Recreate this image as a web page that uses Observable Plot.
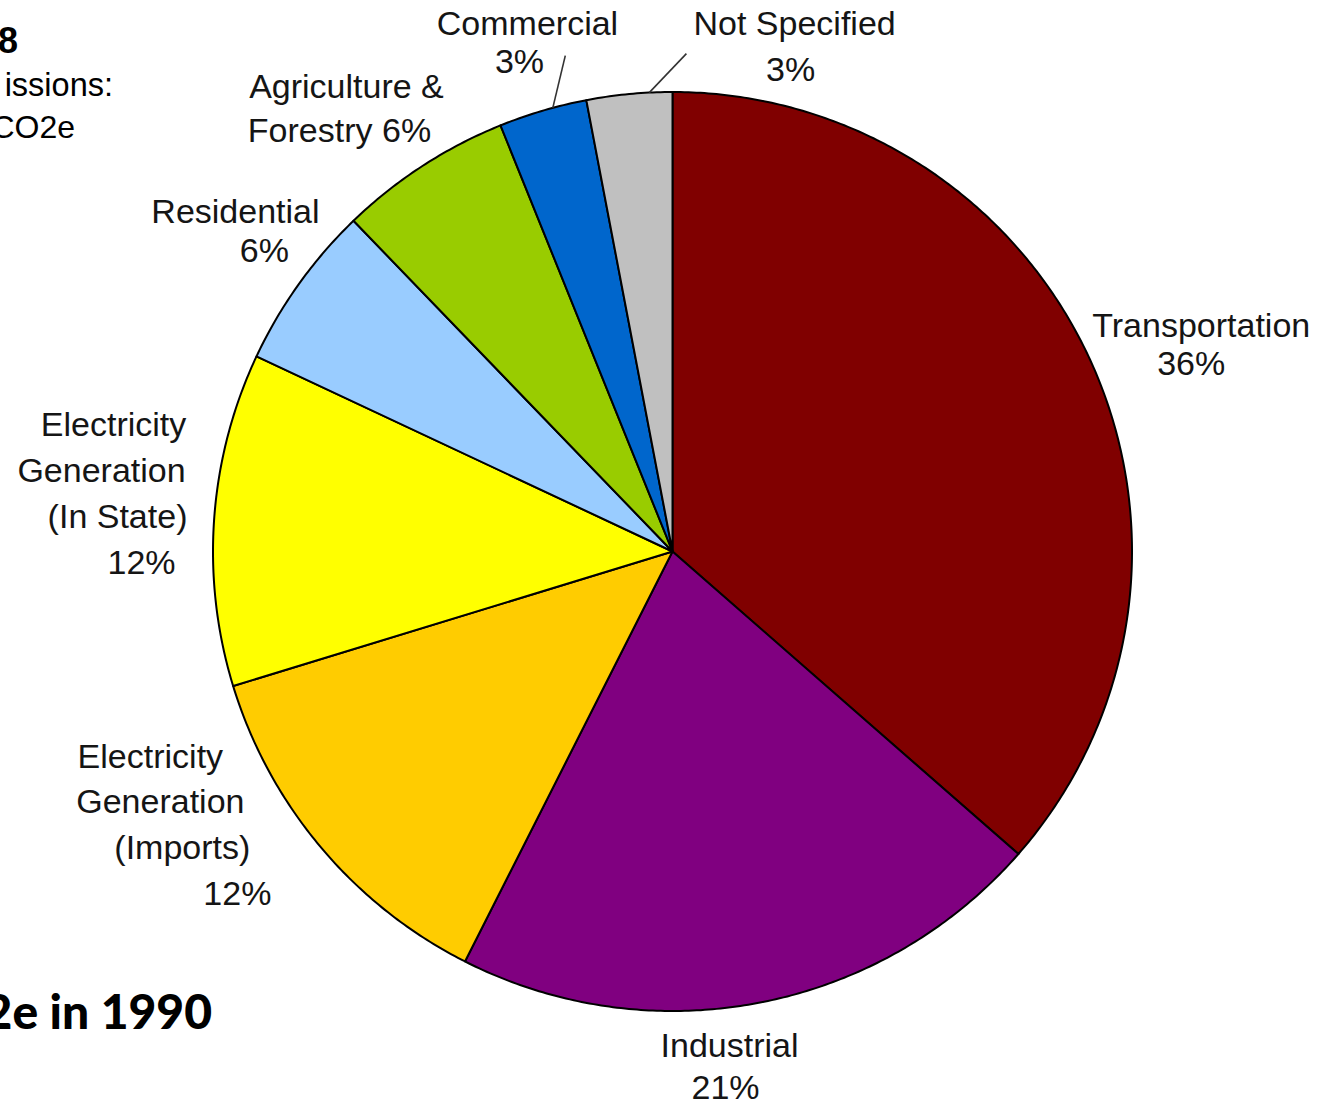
<!DOCTYPE html>
<html><head><meta charset="utf-8">
<script src="https://cdn.jsdelivr.net/npm/d3@7"></script>
<script src="https://cdn.jsdelivr.net/npm/@observablehq/plot@0.6"></script>
<style>
html,body{margin:0;padding:0;background:#fff;}
#wrap{position:relative;width:1329px;height:1107px;overflow:hidden;background:#fff;}
#wrap svg{position:absolute;left:0;top:0;}
.frag{position:absolute;white-space:nowrap;line-height:1;color:#000;}
</style></head><body>
<div id="wrap"></div>
<script>
// ---- data ----
const categories = ["Transportation","Industrial","Electricity Generation (Imports)","Electricity Generation (In State)","Residential","Agriculture & Forestry","Commercial","Not Specified"];
const labelNames = ["Transportation","Industrial","Electricity\nGeneration\n(Imports)","Electricity\nGeneration\n(In State)","Residential","Agriculture &\nForestry","Commercial","Not Specified"];
const shares = [36.4, 21.0, 12.8, 11.7, 5.8, 6.1, 3.1, 3.0];
const shareLabels = ["36%","21%","12%","12%","6%","6%","3%","3%"];
const colors = ["#800000","#800080","#FFCC00","#FFFF00","#99CCFF","#99CC00","#0066CC","#C0C0C0"];

// ---- label layout: block centre as angle (deg, clockwise from top) and radius fraction,
//      per-line horizontal offsets (px), line spacing (px), joiner between name and share ----
const labelLayout = [
  {a:68.5,  k:1.225, lh:38,   dx:[5,-5],          sep:"\n"},
  {a:173.9, k:1.128, lh:42,   dx:[2,-2],          sep:"\n"},
  {a:240.8, k:1.222, lh:45.7, dx:[-32,-22,0,55],  sep:"\n"},
  {a:275.9, k:1.212, lh:46,   dx:[-5,-17,-1,23],  sep:"\n"},
  {a:307.1, k:1.153, lh:39,   dx:[-14.5,14.5],    sep:"\n"},
  {a:323.3, k:1.200, lh:44,   dx:[3.5,-3.5],      sep:" "},
  {a:343.65,k:1.152, lh:38,   dx:[4,-4],          sep:"\n"},
  {a:13.4,  k:1.128, lh:46,   dx:[2,-2],          sep:"\n"}
];
const leaderLayout = [
  {i:6, a0:344.9, k0:1.0, a1:347.8, k1:1.104},
  {i:7, a0:357.1, k0:1.0, a1:1.6, k1:1.084}
];

const R = 459.5, CX = 672, CY = 551, FS = 34;
const rad = d => d*Math.PI/180;

// slice outlines
const total = d3.sum(shares);
let acc = 0;
const slicePoints = [];
categories.forEach((c,i)=>{
  const a0 = acc/total*2*Math.PI; acc += shares[i]; const a1 = acc/total*2*Math.PI;
  const n = Math.max(2, Math.ceil((a1-a0)/(Math.PI/360)));
  slicePoints.push({category:c, x:0, y:0});
  for (let j=0;j<=n;j++){ const t=a0+(a1-a0)*j/n; slicePoints.push({category:c, x:Math.sin(t), y:Math.cos(t)}); }
  slicePoints.push({category:c, x:0, y:0});
});

// label lines
const labelLines = [];
categories.forEach((c,i)=>{
  const L = labelLayout[i];
  const lines = (labelNames[i] + L.sep + shareLabels[i]).split("\n");
  const bx = L.k*Math.sin(rad(L.a)), by = L.k*Math.cos(rad(L.a));
  lines.forEach((t,j)=>{
    labelLines.push({text:t, x: bx + L.dx[j]/R, y: by - (j-(lines.length-1)/2)*L.lh/R});
  });
});
const leaders = leaderLayout.map(L=>({
  x1:L.k0*Math.sin(rad(L.a0)), y1:L.k0*Math.cos(rad(L.a0)),
  x2:L.k1*Math.sin(rad(L.a1)), y2:L.k1*Math.cos(rad(L.a1))
}));

const plot = Plot.plot({
  width:1329, height:1107, margin:0,
  x:{domain:[-1,1], range:[CX-R, CX+R], axis:null},
  y:{domain:[-1,1], range:[CY+R, CY-R], axis:null},
  color:{domain:categories, range:colors},
  style:{fontFamily:"'Liberation Sans', Arial, sans-serif", background:"transparent", overflow:"visible"},
  marks:[
    Plot.line(slicePoints,{x:"x",y:"y",z:"category",fill:"category",stroke:"#000",strokeWidth:2,strokeLinejoin:"round"}),
    Plot.link(leaders,{x1:"x1",y1:"y1",x2:"x2",y2:"y2",stroke:"#333",strokeWidth:1.6}),
    Plot.text(labelLines,{x:"x",y:"y",text:"text",textAnchor:"middle",fontSize:FS,fill:"#151515",fontFamily:"'Liberation Sans', Arial, sans-serif"})
  ]
});
const wrap = document.getElementById("wrap");
wrap.appendChild(plot);

// cropped fragments of the surrounding slide text
const frags = [
  {t:"8", right:18, base:53, size:36, weight:"bold", font:"'Liberation Sans',Arial,sans-serif", asc:0.8465},
  {t:"issions:", right:113, base:97, size:32.5, weight:"normal", font:"'Liberation Sans',Arial,sans-serif", asc:0.8465},
  {t:"CO2e", right:75, base:138, size:32, weight:"normal", font:"'Liberation Sans',Arial,sans-serif", asc:0.8465},
  {t:"2e in 1990", right:212, base:1030, size:48, weight:"900", font:"Lato,sans-serif", asc:0.887}
];
frags.forEach(f=>{
  const d = document.createElement("div");
  d.className = "frag";
  d.textContent = f.t;
  d.style.right = (1329 - f.right) + "px";
  d.style.top = (f.base - f.asc*f.size) + "px";
  d.style.fontSize = f.size + "px";
  d.style.fontWeight = f.weight;
  d.style.fontFamily = f.font;
  wrap.appendChild(d);
});
</script>
</body></html>
